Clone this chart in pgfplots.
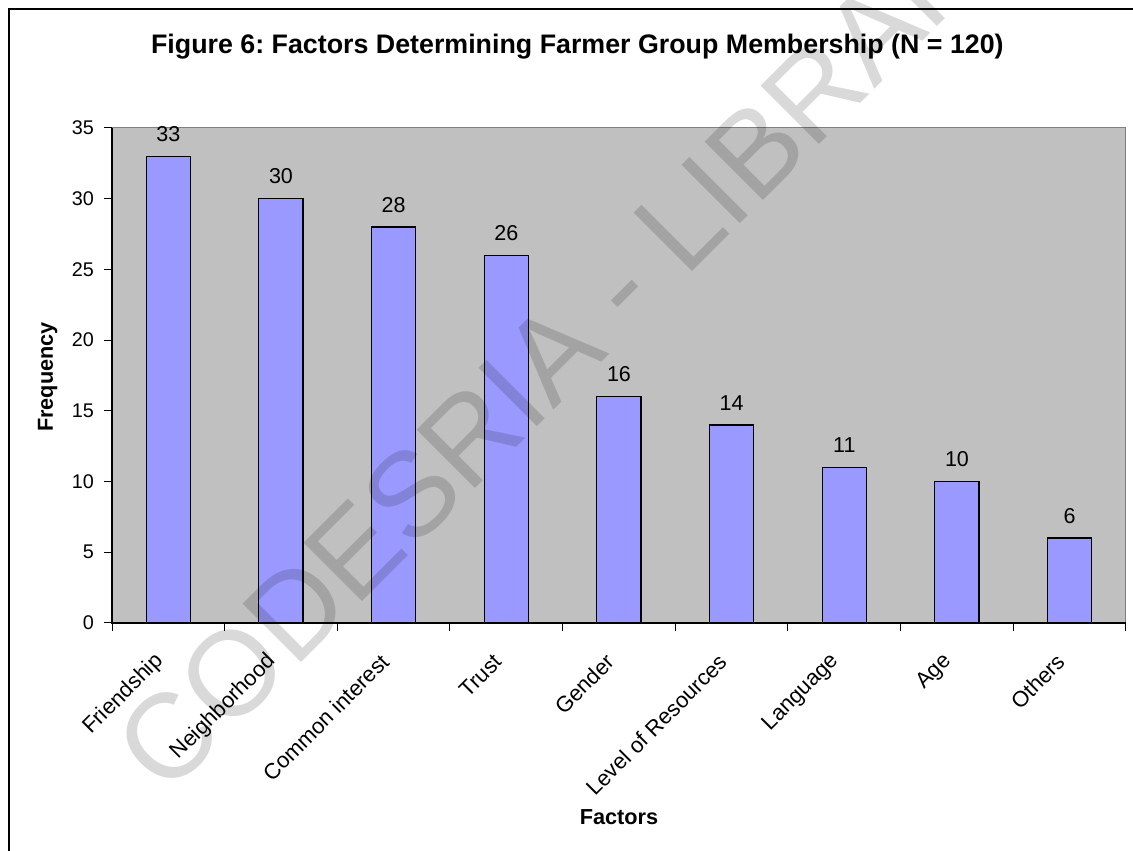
\documentclass[border=0pt]{standalone}
\usepackage{fontspec}
\setmainfont{Liberation Sans}
\usepackage{pgfplots}
\pgfplotsset{compat=1.18}
\frenchspacing
\definecolor{plotgray}{HTML}{C0C0C0}
\definecolor{barblue}{HTML}{9999FF}
\definecolor{edgegray}{HTML}{808080}
\newcommand\titlefont{\fontsize{26.8bp}{30bp}\selectfont\bfseries}
\newcommand\labelfont{\fontsize{21.7bp}{25bp}\selectfont\bfseries}
\newcommand\tickfont{\fontsize{19.8bp}{23bp}\selectfont}
\newcommand\valfont{\fontsize{21.5bp}{25bp}\selectfont}
\newcommand\catfont{\fontsize{22bp}{25bp}\selectfont}
\newcommand\markfont{\fontsize{120bp}{120bp}\selectfont}
\begin{document}
\begin{tikzpicture}[x=1bp,y=1bp]
\useasboundingbox (0,0) rectangle (1133,851);
\begin{axis}[
  at={(112bp,228bp)}, anchor=south west,
  scale only axis, width=1014bp, height=495bp,
  axis background/.style={fill=plotgray},
  axis line style={draw=none},
  clip=false,
  ybar, bar width=44.3bp,
  xmin=-0.5, xmax=8.5, ymin=0, ymax=35,
  ytick={0,5,...,35},
  xtick={-0.5,0.5,...,8.5},
  xticklabels={Friendship,Neighborhood,Common interest,Trust,Gender,Level of Resources,Language,Age,Others,{}},
  xtick pos=bottom, ytick pos=left,
  tick align=outside, major tick length=8bp,
  tick style={black, line width=1bp},
  /pgf/number format/assume math mode=true,
  yticklabel style={font=\tickfont, anchor=east, inner sep=0pt, xshift=-10bp},
  xticklabel style={font=\catfont, inner sep=0pt, xshift=48bp, yshift=-27bp, rotate=45, anchor=east},
  nodes near coords,
  every node near coord/.append style={font=\valfont, text=black, inner sep=0pt, anchor=south, yshift=14bp},
  title={Figure 6: Factors Determining Farmer Group Membership (N = 120)},
  title style={at={(axis description cs:0.459,1.1374)}, anchor=base, font=\titlefont},
  xlabel={Factors},
  xlabel style={at={(axis description cs:0.5,-0.408)}, anchor=base, font=\labelfont},
  ylabel={Frequency},
  ylabel style={at={(axis description cs:-0.0582,0.497)}, anchor=base, font=\labelfont},
]
\addplot[fill=barblue, draw=black, line width=1.3bp] coordinates {
  (0,33) (1,30) (2,28) (3,26) (4,16) (5,14) (6,11) (7,10) (8,6)
};
% plot area edges: grey on top and right, black axis lines on left and bottom
\draw[edgegray, line width=1bp] (rel axis cs:0,1) -- (rel axis cs:1,1) -- (rel axis cs:1,0);
\draw[black, line width=1.3bp] (rel axis cs:0,1) -- (rel axis cs:0,0) -- (rel axis cs:1,0);
\end{axis}
% chart frame
\draw[black, line width=2bp] (9,-20) -- (9,842) -- (1150,842);
% library watermark
\begin{scope}
\clip (0,0) rectangle (1133,851);
\node[rotate=45, anchor=base, inner sep=0pt, text=black, text opacity=0.15, font=\markfont] at (607,494) {CODESRIA - LIBRARY};
\end{scope}
\end{tikzpicture}
\end{document}
